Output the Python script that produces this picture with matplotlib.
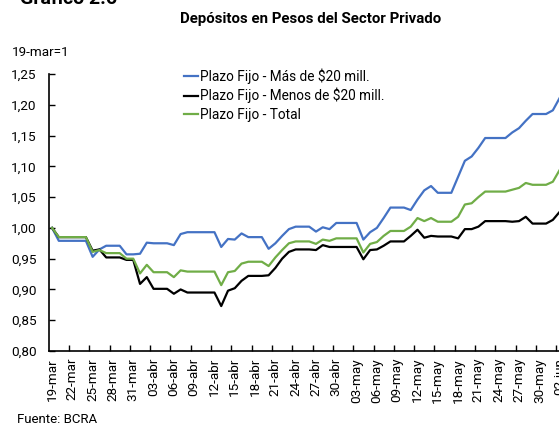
import numpy as np
import matplotlib.pyplot as plt
from matplotlib.ticker import FuncFormatter, FixedLocator

plt.rcParams['font.family'] = ['Roboto', 'DejaVu Sans']

# indice 19-mar = 1, un valor por dia (19-mar .. 02-jun)
mas_20 = [1.000, 0.979, 0.979, 0.979, 0.979, 0.979, 0.953, 0.965, 0.971, 0.971,
          0.971, 0.957, 0.957, 0.958, 0.976, 0.975, 0.975, 0.975, 0.972, 0.990,
          0.993, 0.993, 0.993, 0.993, 0.993, 0.969, 0.982, 0.981, 0.991, 0.985,
          0.985, 0.985, 0.966, 0.975, 0.987, 0.998, 1.002, 1.002, 1.002, 0.994,
          1.001, 0.998, 1.008, 1.008, 1.008, 1.008, 0.981, 0.993, 1.000, 1.016,
          1.033, 1.033, 1.033, 1.029, 1.046, 1.061, 1.068, 1.057, 1.057, 1.057,
          1.083, 1.109, 1.116, 1.130, 1.146, 1.146, 1.146, 1.146, 1.155, 1.162,
          1.174, 1.185, 1.185, 1.185, 1.191, 1.211]
menos_20 = [1.000, 0.985, 0.985, 0.985, 0.985, 0.985, 0.963, 0.965, 0.952, 0.952,
            0.952, 0.948, 0.948, 0.909, 0.920, 0.901, 0.901, 0.901, 0.893, 0.900,
            0.895, 0.895, 0.895, 0.895, 0.895, 0.873, 0.898, 0.902, 0.914, 0.922,
            0.922, 0.922, 0.923, 0.935, 0.950, 0.961, 0.965, 0.965, 0.965, 0.964,
            0.972, 0.969, 0.969, 0.969, 0.969, 0.969, 0.949, 0.964, 0.965, 0.971,
            0.978, 0.978, 0.978, 0.987, 0.997, 0.984, 0.987, 0.986, 0.986, 0.986,
            0.983, 0.998, 0.998, 1.002, 1.011, 1.011, 1.011, 1.011, 1.010, 1.011,
            1.018, 1.007, 1.007, 1.007, 1.013, 1.026]
total = [1.000, 0.985, 0.985, 0.985, 0.985, 0.985, 0.961, 0.964, 0.959, 0.959,
         0.959, 0.950, 0.950, 0.926, 0.940, 0.928, 0.928, 0.928, 0.920, 0.931,
         0.929, 0.929, 0.929, 0.929, 0.929, 0.907, 0.928, 0.930, 0.942, 0.945,
         0.945, 0.945, 0.938, 0.952, 0.964, 0.975, 0.978, 0.978, 0.978, 0.974,
         0.981, 0.979, 0.983, 0.983, 0.983, 0.983, 0.960, 0.974, 0.977, 0.987,
         0.995, 0.995, 0.995, 1.002, 1.016, 1.011, 1.016, 1.010, 1.010, 1.010,
         1.018, 1.038, 1.040, 1.050, 1.059, 1.059, 1.059, 1.059, 1.062, 1.065,
         1.073, 1.070, 1.070, 1.070, 1.075, 1.094]

etiquetas = ['19-mar', '22-mar', '25-mar', '28-mar', '31-mar', '03-abr', '06-abr',
             '09-abr', '12-abr', '15-abr', '18-abr', '21-abr', '24-abr', '27-abr',
             '30-abr', '03-may', '06-may', '09-may', '12-may', '15-may', '18-may',
             '21-may', '24-may', '27-may', '30-may', '02-jun']

x = np.arange(len(mas_20))

fig = plt.figure(figsize=(5.59, 4.23), dpi=100)
ax = fig.add_axes([49/559, 1 - 351/423, 514/559, 277/423])

ax.plot(x, mas_20, color='#4472C4', lw=1.6, label='Plazo Fijo - Más de $20 mill.')
ax.plot(x, menos_20, color='black', lw=1.6, label='Plazo Fijo - Menos de $20 mill.')
ax.plot(x, total, color='#70AD47', lw=1.6, label='Plazo Fijo - Total')

ax.set_xlim(-0.45, 75.5)
ax.set_ylim(0.80, 1.25)
ax.set_yticks(np.arange(0.80, 1.2501, 0.05))
ax.yaxis.set_major_formatter(FuncFormatter(lambda v, p: f'{v:.2f}'.replace('.', ',')))

pos = np.arange(0, len(x), 3)
ax.set_xticks(pos)
ax.set_xticklabels(etiquetas, rotation=90)
ax.xaxis.set_minor_locator(FixedLocator(pos - 0.5))
ax.tick_params(axis='x', which='major', length=0, pad=5, labelsize=9.7)
ax.tick_params(axis='x', which='minor', direction='in', length=4, width=1)
ax.tick_params(axis='y', direction='in', length=4, width=1, pad=9, labelsize=9.7)

for s in ['top', 'right']:
    ax.spines[s].set_visible(False)
for s in ['left', 'bottom']:
    ax.spines[s].set_linewidth(1.2)

ax.legend(loc='upper left', bbox_to_anchor=(0.252, 1.04), frameon=False,
          fontsize=9.8, handlelength=1.05, handletextpad=0.1, labelspacing=0.3,
          borderaxespad=0)

fig.text(311/559, 1 - 19/423, 'Depósitos en Pesos del Sector Privado',
         ha='center', va='center', fontsize=10.8, fontweight='bold')
fig.text(12/559, 1 - 52/423, '19-mar=1', ha='left', va='center', fontsize=9.7)
fig.text(20/559, 1 - 4/423, 'Gráfico 2.6', ha='left', va='baseline',
         fontsize=14, fontweight='bold')
fig.text(17/559, 1 - 419/423, 'Fuente: BCRA', ha='left', va='center', fontsize=9.5)

fig.savefig('out.png', dpi=100)
